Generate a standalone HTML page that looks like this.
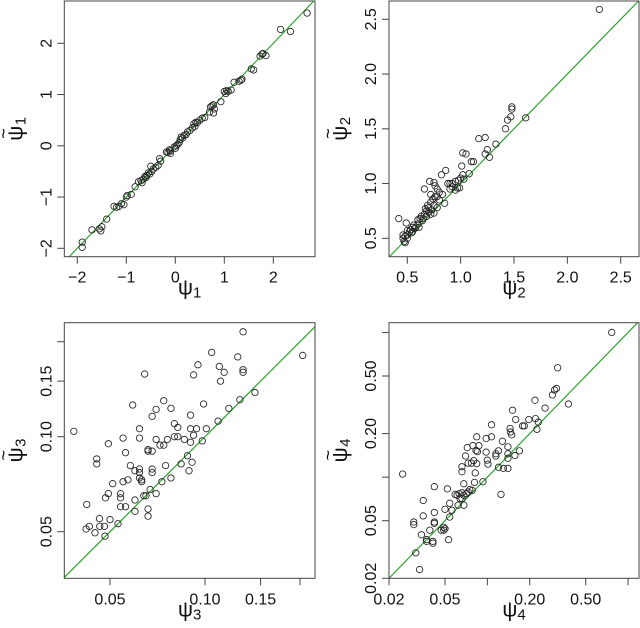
<!DOCTYPE html>
<html><head><meta charset="utf-8"><style>
html,body{margin:0;padding:0;background:#fff;overflow:hidden;}
svg{display:block;font-family:"Liberation Sans","DejaVu Sans",sans-serif;}
</style></head><body>
<svg id="chart" width="640" height="628" viewBox="0 0 640 628" xmlns="http://www.w3.org/2000/svg"></svg>
<script>
const psi1Points=[[2.69,2.59],[2.15,2.27],[2.35,2.23],[1.77,1.79],[1.79,1.8],[1.85,1.76],[1.73,1.75],[1.55,1.5],[1.6,1.48],[1.36,1.3],[1.34,1.28],[1.3,1.26],[1.2,1.24],[1.14,1.09],[1.05,1.08],[1.0,1.06],[1.03,1.02],[1.08,1.06],[0.93,0.86],[0.78,0.8],[0.75,0.78],[0.72,0.76],[0.8,0.72],[0.78,0.64],[0.7,0.66],[0.6,0.55],[0.55,0.54],[0.5,0.5],[0.45,0.45],[0.42,0.46],[0.38,0.43],[0.4,0.38],[0.35,0.35],[0.3,0.3],[0.25,0.27],[0.22,0.22],[0.18,0.2],[0.15,0.15],[0.12,0.17],[0.1,0.12],[0.08,0.06],[0.05,0.03],[0.02,0.0],[-0.02,-0.02],[0.0,-0.05],[-0.1,-0.1],[-0.15,-0.13],[-0.12,-0.08],[-0.18,-0.12],[-0.1,-0.15],[-0.3,-0.3],[-0.32,-0.25],[-0.35,-0.38],[-0.4,-0.42],[-0.45,-0.45],[-0.5,-0.4],[-0.48,-0.5],[-0.52,-0.55],[-0.55,-0.53],[-0.58,-0.58],[-0.6,-0.62],[-0.62,-0.6],[-0.65,-0.65],[-0.7,-0.68],[-0.68,-0.72],[-0.75,-0.7],[-0.82,-0.8],[-0.9,-0.95],[-1.0,-1.0],[-0.98,-0.97],[-1.05,-1.15],[-1.1,-1.13],[-1.2,-1.2],[-1.25,-1.18],[-1.15,-1.18],[-1.4,-1.43],[-1.5,-1.58],[-1.55,-1.62],[-1.52,-1.66],[-1.7,-1.64],[-1.9,-1.88],[-1.9,-1.98]];
const psi2Points=[[2.3,2.59],[1.61,1.6],[1.48,1.7],[1.48,1.68],[1.47,1.61],[1.44,1.58],[1.42,1.5],[1.33,1.36],[1.17,1.41],[1.23,1.42],[1.25,1.31],[1.23,1.27],[1.27,1.24],[1.02,1.28],[1.05,1.27],[1.1,1.2],[1.12,1.2],[1.08,1.09],[1.01,1.16],[1.02,1.08],[1.0,1.05],[0.98,1.03],[0.95,1.02],[0.92,1.0],[0.9,1.0],[0.88,1.0],[0.92,0.97],[0.95,0.94],[0.97,0.96],[0.9,0.95],[0.99,0.96],[1.03,1.04],[0.86,1.12],[0.82,1.08],[0.83,0.9],[0.85,0.82],[0.8,0.92],[0.78,0.95],[0.76,0.98],[0.71,1.02],[0.75,1.01],[0.66,0.95],[0.78,0.88],[0.8,0.85],[0.76,0.88],[0.74,0.86],[0.72,0.83],[0.75,0.8],[0.78,0.78],[0.73,0.76],[0.7,0.78],[0.7,0.74],[0.68,0.75],[0.75,0.73],[0.72,0.72],[0.66,0.72],[0.68,0.7],[0.65,0.68],[0.62,0.68],[0.6,0.67],[0.64,0.66],[0.6,0.63],[0.58,0.6],[0.56,0.62],[0.55,0.6],[0.53,0.58],[0.52,0.56],[0.5,0.57],[0.54,0.55],[0.5,0.53],[0.48,0.52],[0.46,0.5],[0.47,0.47],[0.48,0.46],[0.46,0.53],[0.42,0.68],[0.49,0.64],[0.57,0.59],[0.61,0.6],[0.63,0.7],[0.67,0.77],[0.69,0.8],[0.72,0.9],[0.5,0.5],[0.55,0.56]];
const psi3Points=[[0.0384,0.104],[0.0644,0.158],[0.132,0.215],[0.105,0.185],[0.127,0.179],[0.095,0.169],[0.092,0.157],[0.111,0.167],[0.115,0.160],[0.112,0.150],[0.132,0.163],[0.132,0.160],[0.144,0.138],[0.129,0.131],[0.119,0.123],[0.110,0.112],[0.099,0.127],[0.098,0.097],[0.101,0.106],[0.094,0.106],[0.090,0.106],[0.092,0.101],[0.090,0.117],[0.090,0.096],[0.088,0.087],[0.091,0.083],[0.089,0.078],[0.084,0.082],[0.086,0.098],[0.082,0.100],[0.080,0.100],[0.082,0.107],[0.080,0.110],[0.078,0.123],[0.074,0.130],[0.070,0.122],[0.068,0.116],[0.070,0.098],[0.072,0.094],[0.074,0.094],[0.076,0.098],[0.066,0.091],[0.066,0.090],[0.068,0.090],[0.075,0.081],[0.068,0.079],[0.068,0.077],[0.078,0.074],[0.073,0.072],[0.070,0.066],[0.067,0.068],[0.065,0.065],[0.064,0.065],[0.066,0.059],[0.066,0.056],[0.060,0.063],[0.060,0.058],[0.062,0.077],[0.062,0.074],[0.063,0.072],[0.063,0.073],[0.058,0.081],[0.060,0.078],[0.062,0.079],[0.056,0.089],[0.055,0.099],[0.059,0.126],[0.062,0.106],[0.062,0.099],[0.057,0.073],[0.055,0.072],[0.051,0.071],[0.054,0.066],[0.054,0.064],[0.054,0.060],[0.056,0.060],[0.0494,0.095],[0.0494,0.066],[0.0484,0.064],[0.050,0.0546],[0.053,0.053],[0.0482,0.0484],[0.0454,0.082],[0.0454,0.085],[0.0422,0.061],[0.0463,0.055],[0.0464,0.052],[0.0448,0.0496],[0.048,0.052],[0.043,0.052],[0.042,0.051],[0.204,0.181]];
const psi4Points=[[0.765,1.0],[0.316,0.57],[0.31,0.41],[0.30,0.40],[0.29,0.37],[0.377,0.32],[0.257,0.30],[0.218,0.34],[0.22,0.254],[0.23,0.24],[0.225,0.214],[0.197,0.25],[0.183,0.226],[0.178,0.226],[0.169,0.152],[0.157,0.141],[0.159,0.25],[0.151,0.29],[0.145,0.217],[0.146,0.205],[0.149,0.196],[0.14,0.145],[0.14,0.135],[0.14,0.115],[0.14,0.162],[0.13,0.115],[0.12,0.117],[0.125,0.076],[0.12,0.152],[0.115,0.145],[0.115,0.14],[0.128,0.177],[0.107,0.23],[0.107,0.19],[0.098,0.185],[0.1,0.131],[0.101,0.123],[0.098,0.149],[0.084,0.19],[0.079,0.165],[0.085,0.15],[0.087,0.165],[0.083,0.153],[0.08,0.13],[0.077,0.125],[0.082,0.107],[0.081,0.092],[0.072,0.16],[0.07,0.14],[0.066,0.118],[0.066,0.109],[0.073,0.125],[0.084,0.124],[0.093,0.093],[0.078,0.081],[0.073,0.079],[0.075,0.082],[0.066,0.078],[0.068,0.09],[0.068,0.075],[0.068,0.064],[0.071,0.077],[0.066,0.071],[0.063,0.077],[0.061,0.075],[0.059,0.076],[0.064,0.071],[0.062,0.064],[0.054,0.066],[0.052,0.083],[0.056,0.059],[0.054,0.053],[0.05,0.06],[0.053,0.037],[0.049,0.043],[0.05,0.044],[0.047,0.043],[0.049,0.045],[0.042,0.086],[0.042,0.057],[0.042,0.049],[0.042,0.048],[0.039,0.043],[0.037,0.037],[0.037,0.036],[0.041,0.036],[0.041,0.035],[0.034,0.04],[0.035,0.054],[0.035,0.069],[0.030,0.049],[0.030,0.047],[0.031,0.030],[0.033,0.023],[0.025,0.105]];
const psi1Ticks=[-2,-1,0,1,2];
const psi1TickLabels=["\u22122","\u22121","0","1","2"];
const psi2Ticks=[0.5,1.0,1.5,2.0,2.5];
const psi2TickLabels=["0.5","1.0","1.5","2.0","2.5"];
const psi3Ticks=[0.05,0.10,0.15,0.20];
const psi3TickLabels=["0.05","0.10","0.15",""];
const psi4Ticks=[0.02,0.05,0.1,0.2,0.5,1.0];
const psi4TickLabels=["0.02","0.05","","0.20","0.50",""];

const NS="http://www.w3.org/2000/svg";
const svg=document.getElementById('chart');
function mk(tag,attrs,parent){const e=document.createElementNS(NS,tag);for(const k in attrs)e.setAttribute(k,attrs[k]);(parent||svg).appendChild(e);return e;}
function linScale(v1,p1,v2,p2){return v=>p1+(v-v1)*(p2-p1)/(v2-v1);}
function logScale(v1,p1,v2,p2){return v=>p1+(Math.log(v)-Math.log(v1))*(p2-p1)/(Math.log(v2)-Math.log(v1));}

const panels=[
 {id:1,box:[64.3,1,315,256.7],sx:linScale(-2,77.3,2,273.3),sy:linScale(-2,248.3,2,43.3),pts:psi1Points,ticks:psi1Ticks,labels:psi1TickLabels},
 {id:2,box:[389,1,639,256.7],sx:linScale(0.5,407.3,2.5,620.7),sy:linScale(0.5,238.3,2.5,19.3),pts:psi2Points,ticks:psi2Ticks,labels:psi2TickLabels},
 {id:3,box:[64.3,322.7,315,578.3],sx:logScale(0.05,110,0.10,205),sy:logScale(0.05,531.7,0.10,436.7),pts:psi3Points,ticks:psi3Ticks,labels:psi3TickLabels},
 {id:4,box:[389,322.7,639,578.3],sx:logScale(0.02,389,0.05,445),sy:logScale(0.02,578.3,0.5,376),pts:psi4Points,ticks:psi4Ticks,labels:psi4TickLabels}
];

panels.forEach(p=>{
  const [x0,y0,x1,y1]=p.box;
  const g=mk('g',{});
  
  
  const cp=mk('clipPath',{id:'clip'+p.id},g);
  mk('rect',{x:x0,y:y0,width:x1-x0,height:y1-y0},cp);
  const lo=Math.min(p.ticks[0],p.pts.reduce((m,d)=>Math.min(m,d[0],d[1]),Infinity))*0.5;
  const hi=p.ticks[p.ticks.length-1]*3;
  const a=p.id<=2?p.ticks[0]-5:lo, b=p.id<=2?p.ticks[p.ticks.length-1]+5:hi;
  const ln=mk('line',{x1:p.sx(a),y1:p.sy(a),x2:p.sx(b),y2:p.sy(b),stroke:'#1f9e1f','stroke-width':1.1,'clip-path':'url(#clip'+p.id+')'},g);
  
  
  p.pts.forEach(d=>{
    const c=mk('circle',{cx:p.sx(d[0]),cy:p.sy(d[1]),r:3.2,fill:'none',stroke:'#222','stroke-width':0.85,'clip-path':'url(#clip'+p.id+')'},g);
    
    
  });
  const box=mk('rect',{x:x0,y:y0,width:x1-x0,height:y1-y0,fill:'none',stroke:'#444','stroke-width':1},g);
  
  
  p.ticks.forEach((t,i)=>{
    const tx=p.sx(t), ty=p.sy(t);
    if(tx>=x0-0.5&&tx<=x1+0.5){
      mk('line',{x1:tx,y1:y1,x2:tx,y2:y1+7,stroke:'#444','stroke-width':1},g);
      if(p.labels[i]){const tl=mk('text',{x:tx,y:y1+26,'text-anchor':'middle','font-size':16,fill:'#111'},g);tl.textContent=p.labels[i];
      
      }
    }
    if(ty>=y0-0.5&&ty<=y1+0.5){
      mk('line',{x1:x0,y1:ty,x2:x0-7,y2:ty,stroke:'#444','stroke-width':1},g);
      if(p.labels[i]){const yl=mk('text',{x:x0-13,y:ty,'text-anchor':'middle','font-size':16,fill:'#111',transform:'rotate(-90 '+(x0-13)+' '+ty+')'},g);yl.textContent=p.labels[i];
      
      }
    }
  });
  const cx=(x0+x1)/2, cy=(y0+y1)/2;
  const xt=mk('text',{x:cx,y:y1+38,'text-anchor':'middle','font-size':21,fill:'#111'},g);
  xt.innerHTML='\u03C8<tspan font-size="15" dy="3">'+p.id+'</tspan>';
  
  
  const yx=x0-42;
  const yt=mk('text',{x:yx,y:cy,'text-anchor':'middle','font-size':21,fill:'#111',transform:'rotate(-90 '+yx+' '+cy+')'},g);
  yt.innerHTML='\u03C8<tspan dx="-13" dy="-13" font-size="18">~</tspan><tspan dx="3" dy="16" font-size="15">'+p.id+'</tspan>';
  
  
});
</script>
</body></html>
